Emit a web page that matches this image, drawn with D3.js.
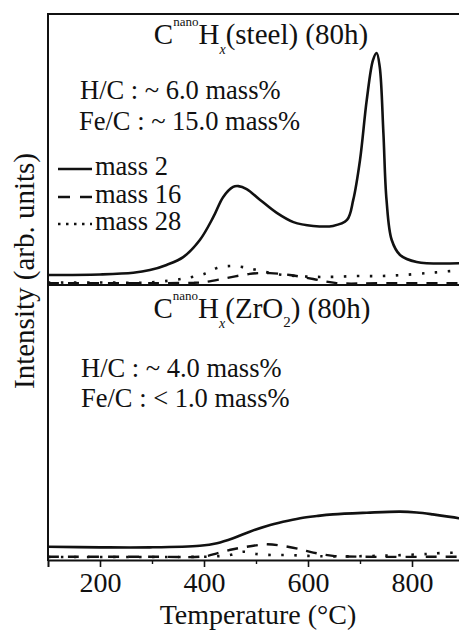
<!DOCTYPE html>
<html><head><meta charset="utf-8">
<script src="https://cdn.jsdelivr.net/npm/d3@7"></script>
<style>
html,body{margin:0;padding:0;background:#fff;}
svg text{font-family:"Liberation Serif","LiberationSerif","Times New Roman",Times,"Nimbus Roman","DejaVu Serif",serif !important;fill:#111;}
</style></head>
<body><svg id="c" width="459" height="630"></svg>
<script>
// ---- data (temperature °C, intensity arb. units 0-100 per panel) ----
const steelMass2T = [100,200,264,296,328,360,392,418,437,456,466,482,508,540,572,610,648,675,687,700,713,725,732,738,745,751,761,777,809,900];
const steelMass2V = [3.7,3.9,4.5,5.5,7.4,10.3,16.6,25.1,32.5,36.2,36.5,35.4,31.4,26.6,23.2,21.8,21.8,24.0,31.4,46.1,68.3,83.0,85.6,80.4,56.1,31.4,16.6,11.1,8.5,8.1];
const steelMass16T = [100,200,300,380,402,444,488,508,527,565,610,655,750,900];
const steelMass16V = [0.7,0.7,0.7,0.8,1.1,2.6,4.1,4.4,4.4,3.7,2.2,0.7,0.7,0.7];
const steelMass28T = [100,200,300,367,405,425,450,475,502,540,580,617,648,694,738,783,829,854,879,900];
const steelMass28V = [0.9,0.9,1.0,2.6,4.4,6.3,7.0,6.6,5.5,4.0,3.3,3.0,3.0,3.3,3.3,3.7,4.4,4.8,5.2,5.4];

const zrMass2T = [100,200,296,392,425,456,488,521,552,585,617,648,713,777,809,840,890,900];
const zrMass2V = [4.8,4.6,4.6,5.2,6.1,7.9,10.3,12.4,13.9,15.2,16.0,16.6,17.2,17.6,17.3,16.6,15.2,14.8];
const zrMass16T = [100,300,400,425,456,482,521,552,585,610,648,700,900];
const zrMass16V = [1.2,1.2,1.3,2.4,3.9,4.8,5.7,5.1,3.9,2.7,1.5,1.2,1.2];
const zrMass28T = [100,300,420,450,475,500,533,565,600,650,750,829,854,900];
const zrMass28V = [1.1,1.1,1.3,1.8,3.0,2.2,1.8,1.8,1.5,1.3,1.6,2.2,2.5,2.7];

const xMajorTicks = [200,400,600,800];
const xMinorTicks = [300,500,700];
const legendLabels = ["mass 2","mass 16","mass 28"];
// ----------------------------------------------------------------------

const svg = d3.select("#c");
const x = d3.scaleLinear().domain([100,900]).range([48,464]);
const yTop = d3.scaleLinear().domain([0,100]).range([285,14]);
const yBot = d3.scaleLinear().domain([0,100]).range([560,285]);

const styles = [
  {w:2.6, dash:null},
  {w:2.4, dash:"11,9"},
  {w:2.6, dash:"2.5,10.5"}
];

function drawSeries(T,V,y,st){
  const pts = T.map((t,i)=>[t,V[i]]);
  const line = d3.line().x(d=>x(d[0])).y(d=>y(d[1])).curve(d3.curveCatmullRom.alpha(0.5));
  svg.append("path").attr("d",line(pts)).attr("fill","none").attr("stroke","#111")
    .attr("stroke-width",st.w).attr("stroke-dasharray",st.dash);
}
drawSeries(steelMass16T,steelMass16V,yTop,styles[1]);
drawSeries(steelMass28T,steelMass28V,yTop,styles[2]);
drawSeries(steelMass2T,steelMass2V,yTop,styles[0]);
drawSeries(zrMass16T,zrMass16V,yBot,styles[1]);
drawSeries(zrMass28T,zrMass28V,yBot,styles[2]);
drawSeries(zrMass2T,zrMass2V,yBot,styles[0]);

// frame
const fr = svg.append("g").attr("stroke","#111").attr("stroke-width",2).attr("fill","none");
fr.append("line").attr("x1",x(100)).attr("x2",x(900)).attr("y1",yTop(100)).attr("y2",yTop(100));
fr.append("line").attr("x1",x(100)).attr("x2",x(900)).attr("y1",yTop(0)).attr("y2",yTop(0));
fr.append("line").attr("x1",x(100)).attr("x2",x(100)).attr("y1",yTop(100)-1).attr("y2",yBot(0)+1);
fr.append("line").attr("x1",x(900)).attr("x2",x(900)).attr("y1",yTop(100)).attr("y2",yBot(0));

// bottom axis
const gAx = svg.append("g").attr("transform",`translate(0,${yBot(0)})`);
gAx.call(d3.axisBottom(x).tickValues(xMajorTicks).tickSize(7).tickPadding(5).tickFormat(d3.format("d")));
gAx.attr("font-family",null).attr("font-size",null);
gAx.select(".domain").attr("stroke","#111").attr("stroke-width",2);
gAx.selectAll(".tick line").attr("stroke","#111").attr("stroke-width",1.6);
gAx.selectAll(".tick text").style("font-size","28px").attr("fill","#111");
const gMin = svg.append("g").attr("transform",`translate(0,${yBot(0)})`);
gMin.call(d3.axisBottom(x).tickValues(xMinorTicks).tickSize(4).tickFormat(""));
gMin.select(".domain").remove();
gMin.selectAll(".tick line").attr("stroke","#111").attr("stroke-width",1.4);

svg.append("text").attr("x",258).attr("y",623.5).attr("text-anchor","middle").style("font-size","28px").text("Temperature (°C)");
svg.append("text").attr("transform","translate(34,271) rotate(-90)").attr("text-anchor","middle").style("font-size","29px").text("Intensity (arb. units)");

// titles
function title(cx,by,inner){
  const t = svg.append("text").attr("x",cx).attr("y",by).attr("text-anchor","middle").style("font-size","29px");
  t.append("tspan").text("C");
  t.append("tspan").attr("dy",-18).style("font-size","13px").text("nano");
  t.append("tspan").attr("dy",18).text("H");
  t.append("tspan").attr("dy",10).style("font-size","14px").style("font-style","italic").text("x");
  t.append("tspan").attr("dy",-10).text("(");
  inner(t);
}
title(261,44,t=>{t.append("tspan").text("steel) (80h)");});
title(262,318,t=>{
  t.append("tspan").text("ZrO");
  t.append("tspan").attr("dy",9).style("font-size","15px").text("2");
  t.append("tspan").attr("dy",-9).text(") (80h)");
});

// annotations
const ann = [
  ["H/C : ~ 6.0 mass%",80,99],["Fe/C : ~ 15.0 mass%",79,130],
  ["H/C : ~ 4.0 mass%",81,377],["Fe/C : < 1.0 mass%",81,407]
];
ann.forEach(a=>svg.append("text").attr("x",a[1]).attr("y",a[2]).style("font-size","26.5px").text(a[0]));

// legend
const legY = [169,197,224];
const legDash = [null,"12,10","2.5,5.5"];
legendLabels.forEach((lab,i)=>{
  svg.append("line").attr("x1",58).attr("x2",92).attr("y1",legY[i]).attr("y2",legY[i])
    .attr("stroke","#111").attr("stroke-width",2.6).attr("stroke-dasharray",legDash[i]);
  svg.append("text").attr("x",95).attr("y",legY[i]+6).style("font-size","26.5px").text(lab);
});
</script></body></html>
